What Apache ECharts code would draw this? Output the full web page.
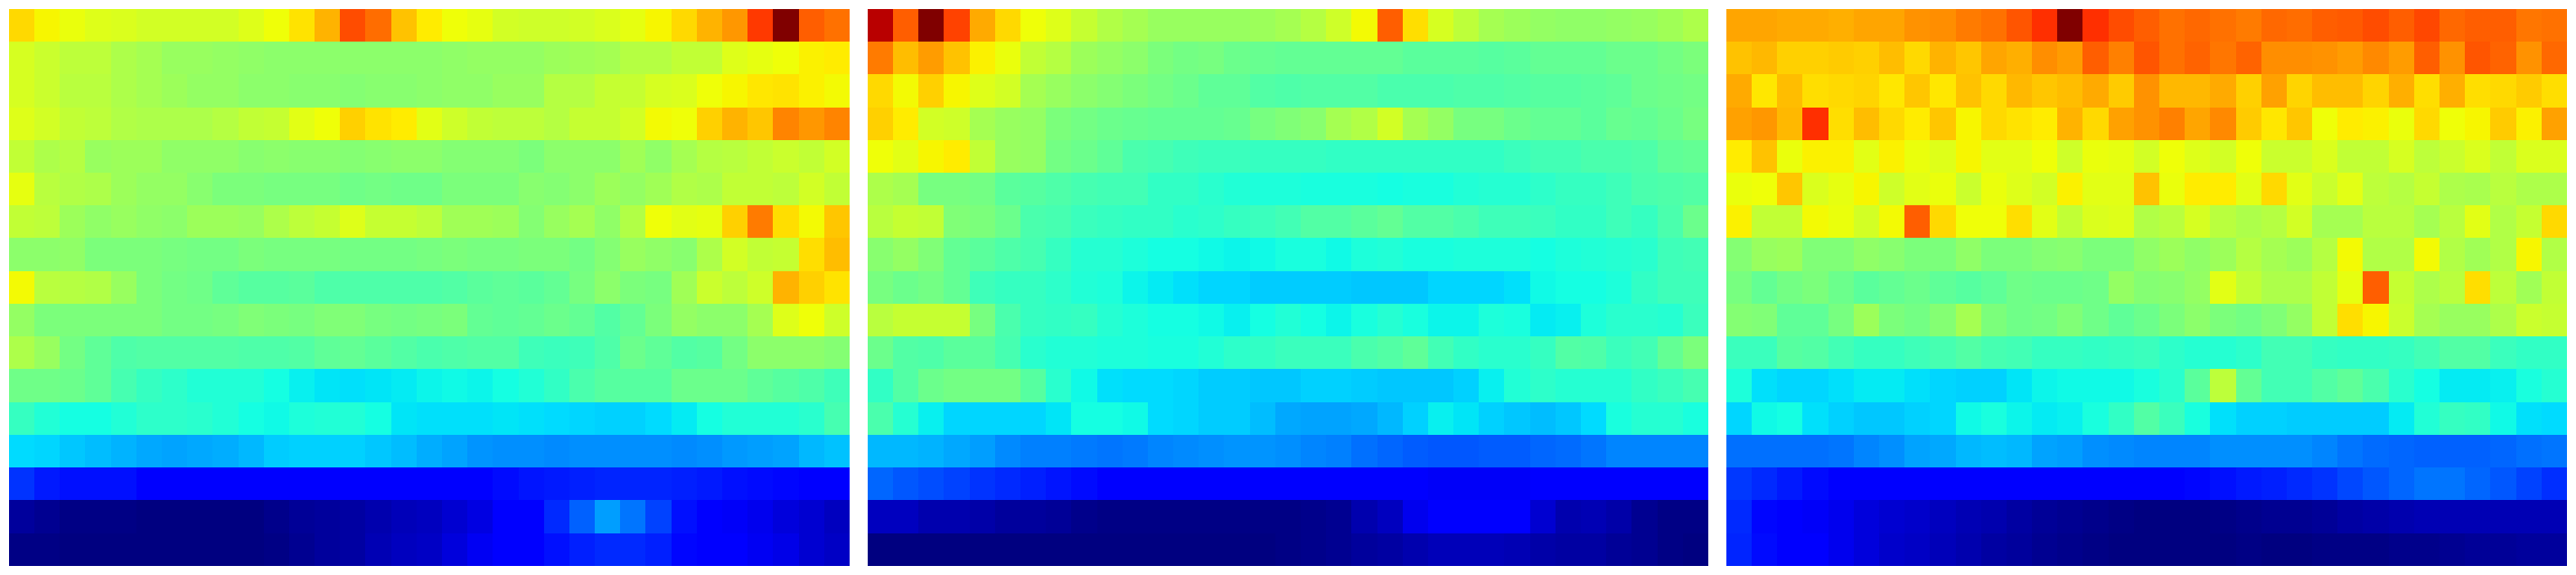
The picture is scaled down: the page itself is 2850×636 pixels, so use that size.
<!DOCTYPE html>
<html>
<head>
<meta charset="utf-8">
<style>html,body{margin:0;padding:0;background:#fff}#chart{width:2850px;height:636px}</style>
<script src="https://cdn.jsdelivr.net/npm/echarts@6/dist/echarts.min.js"></script>
</head>
<body>
<div id="chart"></div>
<script>
const columns = Array.from({length: 33}, (_, i) => String(i));
const rows = Array.from({length: 17}, (_, i) => String(i));

const panelA = [
[68,65,63.5,62,61.5,60.5,60.5,60.5,60.5,62,64,67,72,83,79.5,70.5,66,64,63,60.5,60,60,60.5,61.5,63,65,68,72,75,85,100,81,79],
[61,59.5,58,58,56,55,53.5,53.5,53,52.5,52,52,52,52,52,52,52,52.5,53,53,53,54,54.5,55,57,57,58.5,58.5,62,63,64,65.5,66],
[61,59.5,57.5,57.5,56,55,54,53,53,52,52,51.5,51.5,51,51.5,51.5,52,52.5,52.5,53.5,53.5,57,57,59,59,61,61.5,64,65,66.5,67,65.5,64.5],
[62,60.5,58.5,58,56.5,56,56,56,57,58.5,59,62.5,64,69,67,66,62.5,60,58.5,58,58,57,59,59,60.5,64.5,64,69,72,70,77,75,77],
[58.5,56,57,53.5,54,54,52.5,52.5,52.5,51.5,52,51.5,51.5,51,51.5,52,52,51,51,51,50,52,52,52,54.5,52.5,55,57,57.5,58.5,59.5,58.5,60.5],
[63,57.5,56.5,56,54,53,53,51.5,50,50,49.5,49.5,49.5,48.5,49,48.5,48.5,50,50,50,51.5,51,52,54,53,54.5,56.5,56,58.5,58.5,58,60.5,58.5],
[58.5,58,54,52.5,53.5,52.5,52,54,54,53.5,56,58,59,62,59,59,58,54.5,54.5,54,51,53.5,55,52.5,56.5,64,62.5,63,69,78,67.5,64.5,70],
[52,52,52.5,50,50,50,49.5,49,49,50,49.5,49.5,49.5,49,49,49,49.5,50,49.5,49.5,50,50,49,51,53.5,52.5,51.5,56,60.5,58.5,59,67.5,71],
[64.5,57.5,57,56.5,53.5,50,49,48.5,46.5,45.5,45.5,46,44.5,44.5,44.5,44.5,44.5,45,46,46.5,46,47,49.5,52,50,49.5,54.5,59.5,58,60,72,69,67],
[53,50,50,50,50,50,49,49,49.5,50.5,50,49.5,50.5,50.5,49.5,49,49.5,50,47,46.5,47,48,47,45,47,50,53,52,52,55,62,64,60],
[56,53.5,49,46.5,44.5,45,45,45,45,44.5,44.5,45,46.5,47,46,45,44,44.5,45,45,42.5,42,42.5,44.5,48,46.5,45,45.5,49,52,52,52,51],
[48.5,48.5,48,46.5,43.5,41.5,40.5,39,39,39,37.5,36,35,34.5,35,35.5,36.5,37,36.5,37.5,39,41,44,45.5,45.5,45.5,48,48,48,46.5,45.5,44.5,42.5],
[41.5,39,37.5,37.5,39,40.5,40.5,40,39,37.5,37,38.5,39,39,37.5,35,34.5,34.5,34.5,35,34.5,34,33.5,33,33,34,35.5,37.5,39,39,39,40,43.5],
[34,33.5,32,31,30,29,28.5,29,29.5,30.5,32.5,33,33,33,32,31,29.5,28.5,27,26.5,26.5,26,26.5,26.5,26.5,26.5,26,26.5,27.5,28,28.5,30.5,31.5],
[17.5,15,14,14,14,12,12,12,12,12,12,12,12,12,12,12,12,12,12,13.5,14.5,15,15.5,16,16,16,15.5,15,14,13.5,13,12,12],
[2.5,1.5,0.5,0.5,0.5,0,0,0,0,0,1,2,2.5,3,4,5,5.5,7,8.5,11,12,16.5,22,28,24,19,14,12,10.5,9.5,8,7,5.5],
[0.5,0.5,0,0,0,0,0,0,0,0,0.5,1.5,2.5,3,4.5,5.5,6,8,10,11.5,12,14,15.5,16.5,16.5,15.5,13,12,12,10,9,7,6]
];

const panelB = [
[95,81,100,84,73,68,64,62,59,56.5,55,53.5,53.5,53.5,53.5,54,55,57,60,64.5,81,67.5,61,58,55,54,53,52.5,52.5,53,53.5,54.5,56],
[78,71,74.5,70.5,65.5,63.5,58.5,57,54,53,52,50,49,49.5,48,47.5,47,47,47,47,47,46,46,46,45.5,46,47,47,47,48,48,49,50],
[68,64.5,69,65,62,60.5,55,53.5,52,51,50,49,48,46.5,46.5,45,44.5,45,45,45,44,44,44,44.5,44.5,45,45.5,45.5,46,46.5,48,48.5,49],
[69,66,60.5,60,55,53.5,53,50,49,48,47.5,47,47,47,47.5,49.5,50.5,51.5,55,56.5,60.5,55,53,49.5,49.5,48,47,47,46,47.5,47,48,49.5],
[64,62.5,65,66,58.5,53.5,53,49,48,46.5,44,43.5,42.5,42,42,41.5,41.5,41.5,41,41,41,41,41,41,41,42,43,43,44,44,44.5,46.5,47],
[56,55,49.5,49.5,49,46,45.5,44.5,43.5,43,43,41,41,40,39,38.5,38.5,38,38,38,37.5,38,38,39,39.5,39.5,40.5,41.5,41.5,42.5,44,44.5,45],
[57.5,59,58.5,50.5,50,48,44,43.5,42,41.5,41,41,40,40.5,41.5,42,43,45,45,46,47,45,45,44,42.5,42.5,42,41,41,42.5,41.5,44,48],
[51.5,53,50.5,47,46,44.5,43.5,41.5,39.5,39.5,38.5,37.5,37.5,37,36.5,37,38,38,37,38.5,39,38,38,38.5,38.5,38.5,37.5,38.5,39,39.5,40,42.5,43],
[49.5,48,49,47,42.5,41.5,41.5,40.5,39,38.5,36.5,35.5,34.5,33.5,33.5,32.5,32.5,32.5,32.5,32,32,32,33.5,33.5,33.5,34.5,37,37.5,37.5,38.5,41,42.5,42.5],
[57.5,59,59,59,49.5,44,41.5,41,41.5,39.5,38.5,37.5,37.5,37,36,37.5,39,37.5,36.5,38,39.5,38,36.5,36.5,38.5,38,35.5,36,38.5,40,40,39.5,42],
[48,45,44.5,46,46,43.5,40,39,39,38.5,38.5,38,38,39,40.5,41,42,42,42,44,45,46.5,43,41,40,40,41.5,45,44.5,42,43,47,50],
[41,45,48,49,49,49,45.5,40,37,34.5,34,34,33.5,32.5,32.5,32,32,33,33,32.5,32,32,32,33,36,39,40.5,39.5,39.5,39.5,41,42,43.5],
[44,39.5,36,33.5,33.5,33.5,33.5,35,37.5,37.5,37,34,33.5,32.5,32.5,31,29,28.5,28.5,29,30.5,33,36,35,33,32,31,32,34,38,39.5,39.5,38],
[30.5,30.5,30,29,28,26,25,25,24.5,24,24.5,25.5,26,26.5,27,27,26.5,25.5,25,23.5,22.5,21.5,21,21,21.5,21.5,22.5,23,24,25.5,25.5,25.5,25.5],
[22.5,21,20,19,17.5,16.5,15.5,14.5,13.5,12,12,12,12,12,12,12,11.5,11.5,11,11,11,11,10.5,10.5,10.5,10.5,11,11,11,12,12,12,12],
[5.5,5.5,4,4,3.5,2.5,2.5,2,1,0.5,0.5,0.5,0.5,0.5,0.5,0.5,0.5,1,1.5,4,5.5,9.5,11.5,12,12,11,7,4,4.5,3.5,1.5,0.5,0.5],
[0,0,0,0,0,0,0,0,0,0,0,0,0,0,0,0,0.5,1,1.5,2.5,3,4,5,5,5,4.5,3.5,3,3,2,1.5,0.5,0]
];

const panelC = [
[73.5,73.5,73,73,72.5,73.5,73.5,75.5,76,78,79,82,86,100,86,83,81,79,80,79,78,80,79.5,81,81.5,83,81,83.5,80,81,81,78.5,79],
[70.5,71.5,69,69,69.5,69,71,68,72,70,73.5,72.5,76,74.5,81,77.5,82,79,80.5,78.5,80.5,76,76,75.5,74.5,76.5,74.5,81,75.5,82,80.5,75.5,80],
[73,66.5,71,67.5,68,68.5,66.5,70,66.5,70.5,68,71.5,70,71,73,69.5,75.5,71.5,71.5,73,69,74,68.5,71,71,68.5,72.5,67.5,72.5,67.5,68,69.5,67.5],
[74,75,71.5,86,67.5,71,68,66,70,65,68,67,66,72,68,74,75.5,77.5,73.5,76.5,69.5,66.5,70,64,66,65.5,63.5,68,64,65,69.5,65.5,74],
[66,70.5,63.5,65.5,65.5,62.5,65.5,63.5,62,65,62.5,62.5,64,60,63.5,63,60.5,64,62,60.5,64,59.5,59.5,61.5,58.5,58.5,61,58,59.5,61.5,58.5,61.5,61.5],
[63.5,64,70,61.5,63,65,60,62.5,63.5,59.5,63.5,62,60.5,65.5,62.5,62.5,70.5,63.5,66,66,62.5,68,62.5,59.5,62.5,58,57,59,56,55.5,57.5,56,56],
[65.5,58.5,58.5,64.5,63.5,60.5,64.5,81,68,64,64,67.5,62.5,58.5,61.5,62,56.5,57.5,61,57.5,56,57,60.5,55,55,57.5,57.5,55,57.5,62.5,56.5,59,68],
[51,53.5,54,50.5,50.5,52.5,51.5,50,50,52.5,50,50,51,51.5,50,50,52.5,54,52.5,54,57,55,54,57,64.5,56.5,56.5,64.5,56.5,54.5,56.5,65,56.5],
[49.5,47,49,50,48,46,47,48,46.5,45.5,46.5,48.5,48,48,48.5,53,51,51.5,53,62.5,58.5,56,56,58.5,63,81,59,56,57.5,67.5,58,54.5,58.5],
[51,50.5,46.5,46.5,49.5,54,50,49,51,55,50,48.5,49,50.5,48.5,46.5,48,50,52,50,49,50.5,53,58.5,67.5,65,59.5,55,53.5,53.5,56,59.5,59],
[42,42,45.5,45,43,41.5,41.5,42.5,43.5,45,43.5,43,41.5,41.5,41,41.5,42,40.5,39.5,39.5,40.5,43,43,41.5,41,41,41.5,43,45,45,42,41,41],
[38.5,34.5,33.5,33.5,34.5,35.5,35.5,34.5,33.5,33,33,35,36.5,37,37,37,38,40,46,58,47,43,43,45,46.5,44,40,37.5,35.5,35.5,36,38,39.5],
[33.5,37,37.5,34.5,33,32,32,33,33.5,37,38,36.5,35.5,36,38,41,45,42,38,34.5,33,33,32.5,32.5,32.5,32.5,35.5,39,41.5,41,37,34.5,34],
[23.5,23.5,23.5,23.5,24,25.5,26.5,28.5,29,30.5,31,30.5,28.5,28,26.5,26,25.5,25.5,25.5,26.5,26.5,26.5,26.5,25.5,24,23,22.5,22,22,22,22.5,23.5,24],
[18,16.5,15,13.5,12,12,12,12,12,12,12,12,12,12,12,12,11.5,12,13,14,15,15.5,16.5,17.5,19.5,21,22.5,24,24,22.5,21,19,17],
[16.5,13,12,10.5,9.5,8,7,6.5,5.5,4.5,4,3,2,1.5,1,0.5,0,0,0,0.5,1,1.5,1.5,2,3,3.5,4,4.5,4.5,4.5,4.5,4.5,4.5],
[16,13.5,12,11,9.5,8,6.5,6,5,4,3,2.5,1.5,1,0.5,0,0,0,0,0,0.5,0,0,0.5,0.5,0.5,1,1,1.5,2,2,2.5,2.5]
];

const panels = [panelA, panelB, panelC];
const panelLeft = [9.9, 959.9, 1909.9];

function ramp(points, t) {
  for (let i = 1; i < points.length; i++) {
    if (t <= points[i][0]) {
      const a = points[i - 1], b = points[i];
      return a[1] + (b[1] - a[1]) * (t - a[0]) / (b[0] - a[0]);
    }
  }
  return points[points.length - 1][1];
}
const jetR = [[0,0],[.35,0],[.66,1],[.89,1],[1,.5]];
const jetG = [[0,0],[.125,0],[.375,1],[.64,1],[.91,0],[1,0]];
const jetB = [[0,.5],[.11,1],[.34,1],[.65,0],[1,0]];
const jetColors = Array.from({length: 201}, (_, i) => {
  const t = i / 200;
  const c = [jetR, jetG, jetB].map(p => Math.round(ramp(p, t) * 255));
  return `rgb(${c[0]},${c[1]},${c[2]})`;
});

function renderCell(params, api) {
  const centre = api.coord([api.value(0), api.value(1)]);
  const band = api.size([1, 1]);
  const x0 = Math.round(centre[0] - band[0] / 2);
  const x1 = Math.round(centre[0] + band[0] / 2);
  const y0 = Math.round(centre[1] - band[1] / 2);
  const y1 = Math.round(centre[1] + band[1] / 2);
  return {
    type: 'rect',
    shape: {x: x0, y: y0, width: x1 - x0, height: y1 - y0},
    style: {fill: api.visual('color'), stroke: null, lineWidth: 0}
  };
}

const chart = echarts.init(document.getElementById('chart'), null, {renderer: 'canvas'});
chart.setOption({
  animation: false,
  backgroundColor: '#fff',
  tooltip: {show: false},
  visualMap: {
    show: false, type: 'continuous', min: 0, max: 100, calculable: false,
    seriesIndex: [0, 1, 2], dimension: 2,
    inRange: {color: jetColors}
  },
  grid: panelLeft.map(left => ({left, top: 9.85, width: 930, height: 616, containLabel: false})),
  xAxis: panels.map((_, i) => ({type: 'category', gridIndex: i, data: columns, show: false})),
  yAxis: panels.map((_, i) => ({type: 'category', gridIndex: i, data: rows, inverse: true, show: false})),
  series: panels.map((panel, i) => ({
    type: 'custom', xAxisIndex: i, yAxisIndex: i, renderItem: renderCell,
    encode: {x: 0, y: 1},
    clip: false,
    progressive: 0,
    silent: true,
    data: panel.flatMap((row, r) => row.map((v, c) => [c, r, v]))
  }))
});
</script>
</body>
</html>
